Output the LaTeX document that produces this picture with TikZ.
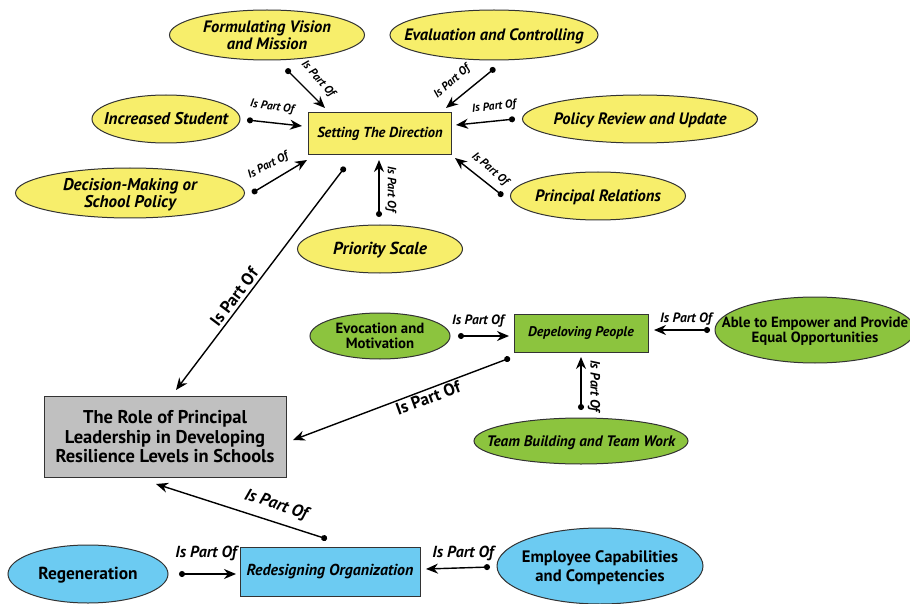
\documentclass[tikz,border=0pt]{standalone}
\usepackage{fontspec}
\setmainfont{PT Sans}
\usetikzlibrary{shapes.geometric,arrows.meta}
\definecolor{ylw}{RGB}{247,238,107}
\definecolor{grn}{RGB}{140,196,62}
\definecolor{blu}{RGB}{108,203,242}
\definecolor{gry}{RGB}{192,192,192}
\newcommand{\fs}[1]{\fontsize{#1}{#1}\selectfont\bfseries}
\newcommand{\ov}[1]{\makebox[0pt]{\raisebox{0pt}[\height][\dimexpr\depth-0.3em\relax]{\begin{tabular}{@{}c@{}}#1\end{tabular}}}}
\tikzset{
  ell/.style={ellipse,draw=black!80,line width=1pt,inner sep=0pt,align=center},
  yell/.style={ell,fill=ylw,font=\fs{16.5}\itshape},
  gell/.style={ell,fill=grn,font=\fs{14.8}},
  bell/.style={ell,fill=blu,font=\fs{16.6}},
  box/.style={rectangle,draw=black!80,line width=1pt,align=center,inner sep=0pt},
  link/.style={line width=1.4pt,{Circle[length=6pt]}-{Stealth[length=12pt,width=10pt]}},
  lbl/.style={font=\fs{11.5}\itshape,inner sep=0pt},
  biglbl/.style={font=\fs{17},inner sep=0pt},
}
\begin{document}
\begin{tikzpicture}[x=1pt,y=-1pt]
\clip (0,0) rectangle (910,604);
\fill[white] (0,0) rectangle (910,604);
% nodes
\node[yell,minimum width=195,minimum height=50] (fvm) at (267,35) {\ov{Formulating Vision\\and Mission}};
\node[yell,minimum width=208,minimum height=50] (evc) at (494,35) {\ov{Evaluation and Controlling}};
\node[yell,minimum width=148,minimum height=48,font=\fs{17}\itshape] (inc) at (166,119) {\ov{Increased Student}};
\node[box,fill=ylw,minimum width=143,minimum height=42,font=\fs{14.5}\itshape] (std) at (380,134) {Setting The Direction};
\node[yell,minimum width=235,minimum height=48] (prv) at (640,119) {\ov{Policy Review and Update}};
\node[yell,minimum width=229,minimum height=50,font=\fs{17}\itshape] (dms) at (130,193) {\ov{Decision-Making or\\School Policy}};
\node[yell,minimum width=175,minimum height=48] (prl) at (598,196) {\ov{Principal Relations}};
\node[yell,minimum width=165,minimum height=48,font=\fs{17.4}\itshape] (psc) at (380,249) {\ov{Priority Scale}};
\node[gell,minimum width=140,minimum height=46] (evo) at (380,336) {\ov{Evocation and\\Motivation}};
\node[box,fill=grn,minimum width=134,minimum height=38,font=\fs{14}\itshape] (dpp) at (581,333) {Depeloving People};
\node[gell,minimum width=200,minimum height=66] (aep) at (815,330) {\ov{Able to Empower and Provide\\Equal Opportunities}};
\node[gell,minimum width=214,minimum height=46,font=\fs{15.2}\itshape] (tbt) at (581,441) {\ov{Team Building and Team Work}};
\node[box,fill=gry,minimum width=242,minimum height=81,font=\fs{18.5}] (role) at (165,437) {The Role of Principal\\[1pt]Leadership in Developing\\[1pt]Resilience Levels in Schools};
\node[box,fill=blu,minimum width=180,minimum height=49,font=\fs{15.9}\itshape] (rdo) at (330,572) {Redesigning Organization};
\node[bell,minimum width=160,minimum height=58,font=\fs{17.4}] (reg) at (88,574) {\ov{Regeneration}};
\node[bell,minimum width=206,minimum height=76] (ecc) at (600,566) {\ov{Employee Capabilities\\[2pt]and Competencies}};
% connector end points
\coordinate (a1) at (286,69);  \coordinate (b1) at (325,108);
\coordinate (a2) at (495,68);  \coordinate (b2) at (446,108);
\coordinate (a3) at (247,120); \coordinate (b3) at (302,126);
\coordinate (a4) at (515,119); \coordinate (b4) at (456,125);
\coordinate (a5) at (252,193); \coordinate (b5) at (307,160);
\coordinate (a6) at (503,196); \coordinate (b6) at (455,158);
\coordinate (a7) at (379,217); \coordinate (b7) at (379,160);
\coordinate (a8) at (345,167); \coordinate (b8) at (176,390);
\coordinate (a9) at (510,358); \coordinate (b9) at (293,440);
\coordinate (a10) at (458,336); \coordinate (b10) at (509,336);
\coordinate (a11) at (710,330); \coordinate (b11) at (654,330);
\coordinate (a12) at (581,410); \coordinate (b12) at (581,357);
\coordinate (a13) at (327,539); \coordinate (b13) at (156,484);
\coordinate (a14) at (179,574); \coordinate (b14) at (236,574);
\coordinate (a15) at (490,567); \coordinate (b15) at (426,569);
% connectors
\foreach \i in {1,...,15} {\draw[link] (a\i) -- (b\i);}
% labels
\node[lbl,rotate=-48] (l1) at (318,79) {Is Part Of};
\node[lbl,rotate=42] (l2) at (452,82) {Is Part Of};
\node[lbl,rotate=-8] (l3) at (272,107) {Is Part Of};
\node[lbl,rotate=6] (l4) at (494,107) {Is Part Of};
\node[lbl,rotate=28] (l5) at (268,166) {Is Part Of};
\node[lbl,rotate=-40] (l6) at (490,169) {Is Part Of};
\node[lbl,font=\fs{12}\itshape,rotate=-90] (l7) at (391,189) {Is Part Of};
\node[biglbl,rotate=53] (l8) at (234,297) {Is Part Of};
\node[biglbl,rotate=20] (l9) at (428,398) {Is Part Of};
\node[lbl,font=\fs{13.5}\itshape] (l10) at (478,321) {Is Part Of};
\node[lbl,font=\fs{13.5}\itshape] (l11) at (686,319) {Is Part Of};
\node[lbl,font=\fs{13.5}\itshape,rotate=-90] (l12) at (594,386) {Is Part Of};
\node[biglbl,font=\fs{17}\itshape,rotate=-18] (l13) at (276,505) {Is Part Of};
\node[lbl,font=\fs{16}\itshape] (l14) at (206,553) {Is Part Of};
\node[lbl,font=\fs{16}\itshape] (l15) at (463,553) {Is Part Of};
\end{tikzpicture}
\end{document}
